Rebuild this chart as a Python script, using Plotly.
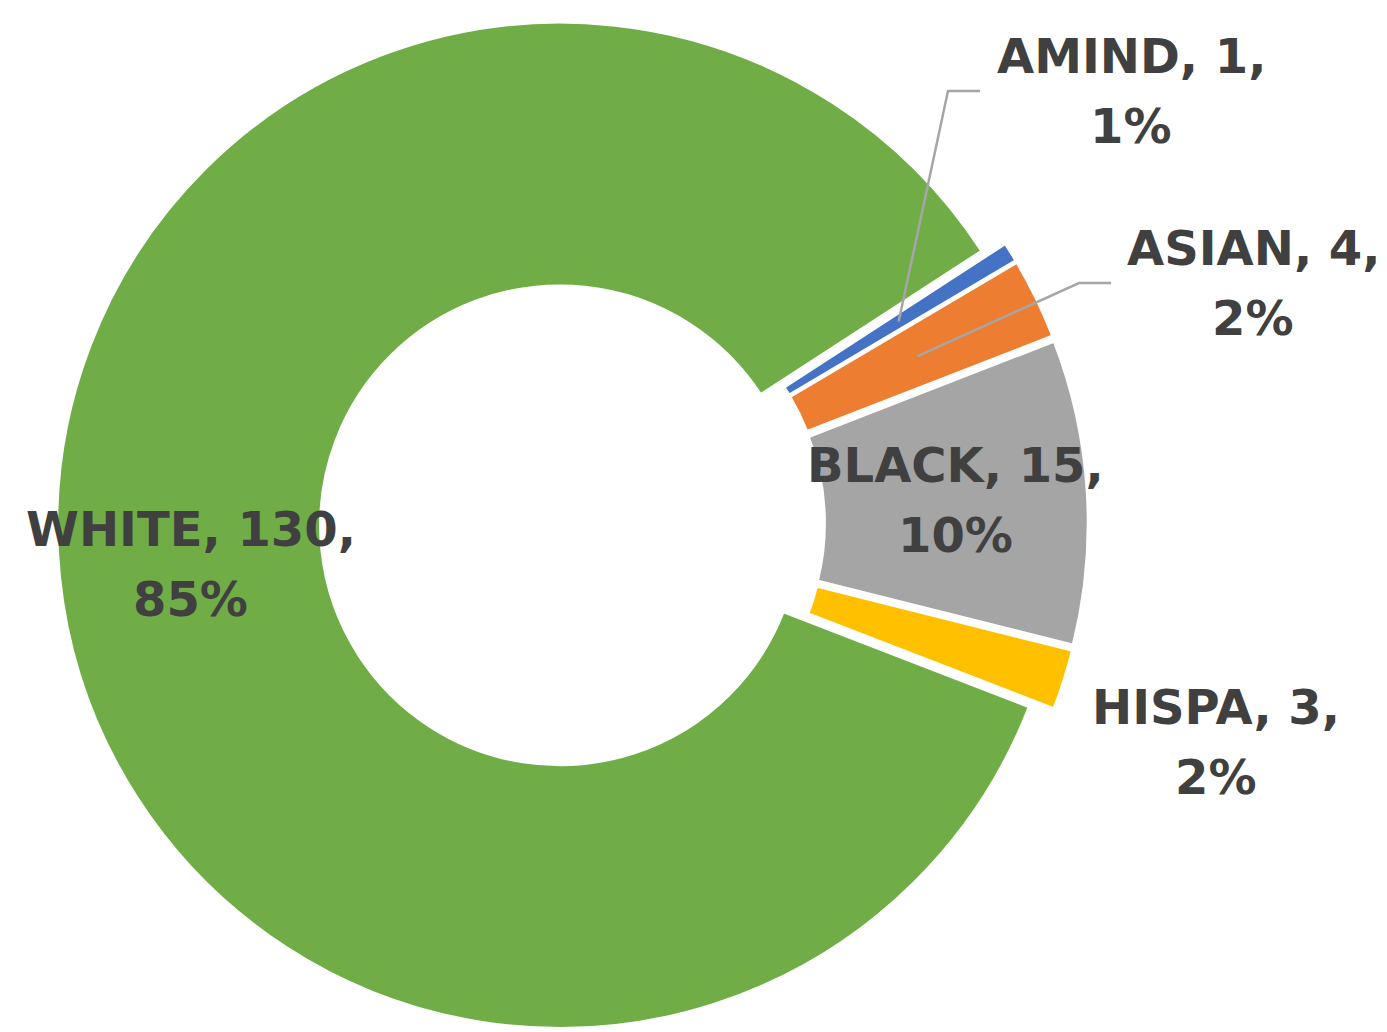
import math
import plotly.graph_objects as go

labels = ["AMIND", "ASIAN", "BLACK", "HISPA", "WHITE"]
values = [1, 4, 15, 3, 130]
pct_text = ["1%", "2%", "10%", "2%", "85%"]
colors = ["#4472C4", "#ED7D31", "#A5A5A5", "#FFC000", "#70AD47"]

# ---- layout / style settings ----
W, H = 1387, 1032
ROT = 57
HOLE = 0.475
PULLS = [0.025, 0.025, 0.025, 0.025, 0.025]
DOM_X = [0.0, 0.814]
FONT = dict(family="DejaVu Sans", size=48, color="#404040", weight="bold")
LINE_GAP = 70  # px between the two label lines
TEXT_MODE = {"AMIND": "outside", "ASIAN": "outside", "BLACK": "inside",
             "HISPA": "outside", "WHITE": "inside"}
# centre of outside label blocks (pixels) and x where the leader line stops
OUTSIDE_POS = {"AMIND": (1123, 83), "ASIAN": (1245, 275), "HISPA": (1208, 734)}
LEADER_END = {"AMIND": 972, "ASIAN": 1103, "HISPA": None}
LEADER_ELBOW = 32

fig = go.Figure(go.Pie(
    labels=labels,
    values=values,
    textinfo="none",
    hole=HOLE,
    sort=False,
    direction="clockwise",
    rotation=ROT,
    pull=PULLS,
    marker=dict(colors=colors, line=dict(color="white", width=3.5)),
    showlegend=False,
    hoverinfo="label+value+percent",
    domain=dict(x=DOM_X, y=[0, 1]),
))

# pie geometry (same rule plotly uses to size the pie)
cx = (DOM_X[0] + DOM_X[1]) / 2 * W
cy = H / 2
R = min(W * (DOM_X[1] - DOM_X[0]), H) / 2 / (1 + max(PULLS))
total = sum(values)


def px2paper(x, y):
    return x / W, 1 - y / H


def add_label(annotations, x_px, y_px, line1, line2):
    x, y = px2paper(x_px, y_px)
    for txt, shift in ((line1, LINE_GAP / 2), (line2, -LINE_GAP / 2)):
        annotations.append(dict(x=x, y=y, xref="paper", yref="paper", text=txt,
                                showarrow=False, xanchor="center", yanchor="middle",
                                yshift=shift, font=FONT))


annotations = []
shapes = []
cum = 0
for lab, val, pct, pull in zip(labels, values, pct_text, PULLS):
    ang = math.radians(ROT + 360 * (cum + val / 2) / total)
    cum += val
    r_mid = R * (1 + HOLE) / 2 + pull * R
    sx = cx + r_mid * math.sin(ang)
    sy = cy - r_mid * math.cos(ang)
    line1, line2 = f"{lab}, {val},", pct
    if TEXT_MODE[lab] == "inside":
        add_label(annotations, sx, sy, line1, line2)
    else:
        lx, ly = OUTSIDE_POS[lab]
        add_label(annotations, lx, ly, line1, line2)
        end = LEADER_END[lab]
        if end is not None:
            p0 = px2paper(sx, sy)
            p1 = px2paper(end - LEADER_ELBOW, ly)
            p2 = px2paper(end, ly)
            shapes.append(dict(type="path", xref="paper", yref="paper",
                               path=f"M {p0[0]},{p0[1]} L {p1[0]},{p1[1]} L {p2[0]},{p2[1]}",
                               line=dict(color="#A6A6A6", width=2.5)))

fig.update_layout(
    width=W, height=H,
    margin=dict(l=0, r=0, t=0, b=0),
    paper_bgcolor="white",
    plot_bgcolor="white",
    annotations=annotations,
    shapes=shapes,
)

fig.write_html("out.html")
